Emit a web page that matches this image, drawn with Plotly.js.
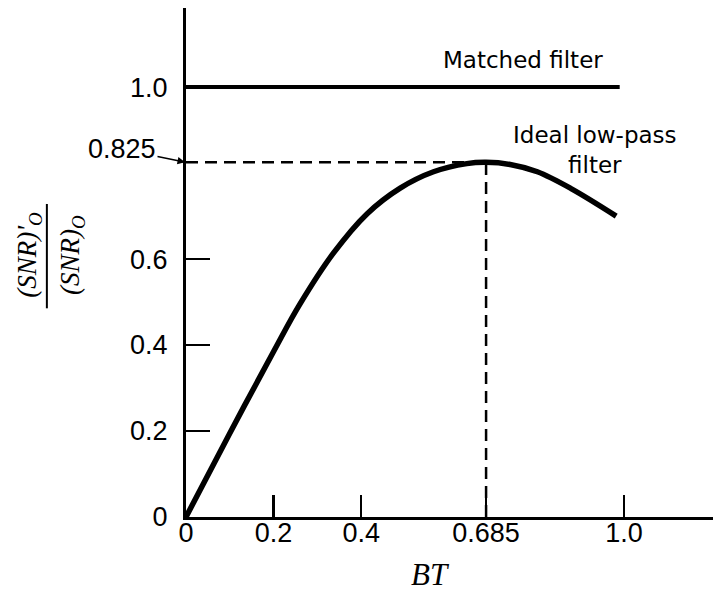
<!DOCTYPE html>
<html>
<head>
<meta charset="utf-8">
<script src="https://cdn.plot.ly/plotly-3.0.1.min.js"></script>
<style>html,body{margin:0;padding:0;background:#fff;}#chart{width:713px;height:591px;}</style>
</head>
<body>
<div id="chart"></div>
<script>
// Ideal low-pass filter curve
var lpfBT  = [0, 0.1, 0.2, 0.26, 0.336, 0.413, 0.489, 0.565, 0.641, 0.685, 0.74, 0.802, 0.879, 0.982];
var lpfSNR = [0, 0.195, 0.385, 0.495, 0.613, 0.705, 0.765, 0.803, 0.822, 0.825, 0.820, 0.803, 0.764, 0.700];
// Matched filter
var mfBT  = [0, 0.99];
var mfSNR = [1.0, 1.0];
// Peak marker
var peakBT = 0.685;
var peakSNR = 0.825;
// Tick labels
var xTickVals = [0, 0.2, 0.4, 0.685, 1.0];
var xTickText = ['0', '0.2', '0.4', '0.685', '1.0'];
var yTickVals = [0, 0.2, 0.4, 0.6, 1.0];
var yTickText = ['0', '0.2', '0.4', '0.6', '1.0'];

var tickFont = {family: 'Liberation Sans, Arial, sans-serif', size: 27, color: '#000'};
var labelFont = {family: 'DejaVu Sans, sans-serif', size: 23, color: '#000'};
var serifFont = {family: 'Liberation Serif, Times New Roman, serif', size: 27, color: '#000', style: 'italic'};
var btFont = {family: 'Liberation Serif, Times New Roman, serif', size: 31, color: '#000', style: 'italic'};

var traces = [
  {x: mfBT, y: mfSNR, mode: 'lines', line: {color: '#000', width: 4}, hoverinfo: 'skip'},
  {x: [0, peakBT], y: [peakSNR, peakSNR], mode: 'lines', line: {color: '#000', width: 2.5, dash: '12px,7px'}, hoverinfo: 'skip'},
  {x: [peakBT, peakBT], y: [0, peakSNR], mode: 'lines', line: {color: '#000', width: 2.5, dash: '12px,7px'}, hoverinfo: 'skip'},
  {x: lpfBT, y: lpfSNR, mode: 'lines', line: {color: '#000', width: 5.5, shape: 'spline', smoothing: 1}, hoverinfo: 'skip'}
];

var layout = {
  width: 713, height: 591,
  margin: {l: 186, r: 0, t: 8, b: 74},
  paper_bgcolor: '#fff', plot_bgcolor: '#fff',
  showlegend: false,
  xaxis: {
    range: [0, 1.203], showgrid: false, zeroline: false,
    showline: true, linecolor: '#000', linewidth: 3,
    ticks: 'inside', ticklen: 22, tickwidth: 2.5, tickcolor: '#000',
    tickvals: xTickVals, ticktext: xTickText, tickfont: tickFont,
    ticklabelstandoff: -10,
    fixedrange: true
  },
  yaxis: {
    range: [0, 1.184], showgrid: false, zeroline: false,
    showline: true, linecolor: '#000', linewidth: 3,
    ticks: 'inside', ticklen: 24, tickwidth: 2.5, tickcolor: '#000',
    tickvals: yTickVals, ticktext: yTickText, tickfont: tickFont,
    ticklabelstandoff: 10,
    fixedrange: true
  },
  annotations: [
    {x: 0.769, y: 1.063, xref: 'x', yref: 'y', text: 'Matched filter', showarrow: false, font: labelFont},
    {x: 0.934, y: 0.853, xref: 'x', yref: 'y', text: 'Ideal low-pass<br>filter', showarrow: false, font: labelFont},
    {x: 0, y: peakSNR, xref: 'x', yref: 'y', text: '0.825', showarrow: true, ax: -64, ay: -13,
     arrowhead: 2, arrowsize: 1, arrowwidth: 1.5, arrowcolor: '#000', standoff: 1, font: tickFont},
    {x: 0.463, y: -0.112, xref: 'paper', yref: 'paper', xanchor: 'center', yanchor: 'middle', text: 'BT', showarrow: false, font: btFont},
    {x: -0.298, y: 0.515, xref: 'paper', yref: 'paper', xanchor: 'center', yanchor: 'middle', text: "(SNR)'<sub>O</sub>", textangle: -90, showarrow: false, font: serifFont},
    {x: -0.216, y: 0.515, xref: 'paper', yref: 'paper', xanchor: 'center', yanchor: 'middle', text: "(SNR)<sub>O</sub>", textangle: -90, showarrow: false, font: serifFont}
  ],
  shapes: [
    {type: 'line', xref: 'paper', yref: 'paper', x0: -0.264, x1: -0.264, y0: 0.41, y1: 0.615, line: {color: '#000', width: 2}}
  ]
};

Plotly.newPlot('chart', traces, layout, {displayModeBar: false, staticPlot: true});
</script>
</body>
</html>
